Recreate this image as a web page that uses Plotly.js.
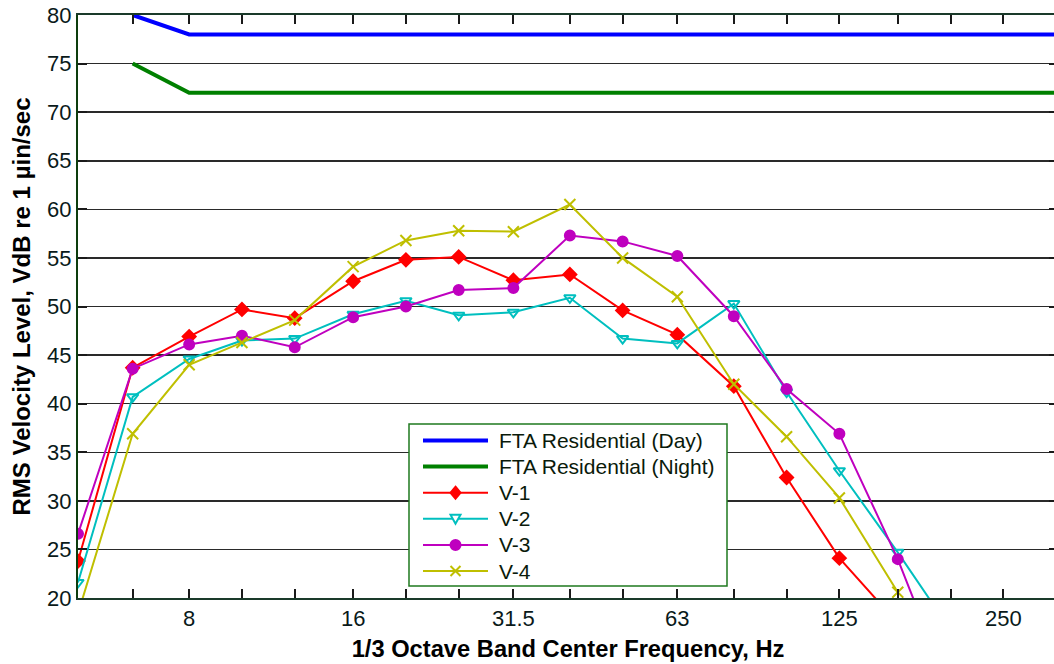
<!DOCTYPE html>
<html>
<head>
<meta charset="utf-8">
<script src="https://cdn.plot.ly/plotly-3.0.1.min.js"></script>
<style>
  html, body { margin: 0; padding: 0; background: #ffffff; overflow: hidden; }
  #chart { width: 1060px; height: 664px; }
</style>
</head>
<body>
<div id="chart"></div>
<script>
// 1/3 octave band centre frequencies (Hz)
const bands = [5, 6.3, 8, 10, 12.5, 16, 20, 25, 31.5, 40, 50, 63, 80, 100, 125, 160, 200, 250, 315];

// FTA residential criteria, defined from 6.3 Hz upward
const ftaBands = [6.3, 8, 10, 12.5, 16, 20, 25, 31.5, 40, 50, 63, 80, 100, 125, 160, 200, 250, 315];
const ftaDay   = [80, 78, 78, 78, 78, 78, 78, 78, 78, 78, 78, 78, 78, 78, 78, 78, 78, 78];
const ftaNight = [75, 72, 72, 72, 72, 72, 72, 72, 72, 72, 72, 72, 72, 72, 72, 72, 72, 72];

// Measured RMS velocity levels (VdB re 1 µin/sec), starting at 5 Hz
const v1 = [23.8, 43.7, 46.9, 49.7, 48.8, 52.6, 54.8, 55.1, 52.7, 53.3, 49.6, 47.1, 41.8, 32.4, 24.1, 17.4];
const v2 = [21.6, 40.7, 44.6, 46.5, 46.7, 49.2, 50.6, 49.1, 49.4, 50.9, 46.7, 46.2, 50.3, 41.2, 33.1, 24.7, 16.7];
const v3 = [26.6, 43.6, 46.1, 47.0, 45.8, 48.9, 50.0, 51.7, 51.9, 57.3, 56.7, 55.2, 49.0, 41.5, 36.9, 24.0, 10.2];
const v4 = [18.4, 36.9, 44.0, 46.3, 48.6, 54.1, 56.8, 57.8, 57.7, 60.5, 55.0, 51.0, 42.0, 36.6, 30.3, 20.6];

// Tick marks at every band, labels on every octave
const tickBands  = [6.3, 8, 10, 12.5, 16, 20, 25, 31.5, 40, 50, 63, 80, 100, 125, 160, 200, 250];
const tickLabels = ['', '8', '', '', '16', '', '', '31.5', '', '', '63', '', '', '125', '', '', '250'];

const font = 'Arial, "Liberation Sans", sans-serif';

// Plot area in pixels (the figure is a touch wider than the window,
// so the right-hand frame sits just past the visible edge)
const FIG_W = 1060, FIG_H = 664;
const M = { l: 78, r: 2, t: 15, b: 66 };
const plotW = FIG_W - M.l - M.r, plotH = FIG_H - M.t - M.b;
const px = p => (p - M.l) / plotW;             // pixel x -> paper x
const py = p => (FIG_H - M.b - p) / plotH;     // pixel y -> paper y

function series(name, y, color, symbol, size) {
  return {
    type: 'scatter', mode: 'lines+markers', name: name,
    x: bands.slice(0, y.length), y: y,
    line: { color: color, width: 2 },
    marker: { symbol: symbol, size: size, color: color, line: { color: color, width: 2 } }
  };
}

const traces = [
  { type: 'scatter', mode: 'lines', name: 'FTA Residential (Day)',
    x: ftaBands, y: ftaDay, line: { color: '#0000ff', width: 4 } },
  { type: 'scatter', mode: 'lines', name: 'FTA Residential (Night)',
    x: ftaBands, y: ftaNight, line: { color: '#008000', width: 4 } },
  series('V-1', v1, '#ff0000', 'diamond', 10),
  series('V-2', v2, '#00bfbf', 'triangle-down-open', 10),
  series('V-3', v3, '#bf00bf', 'circle', 10),
  series('V-4', v4, '#bfbf00', 'x-thin-open', 11)
];

// Boxed legend with long line samples, built from the trace styles
const legendBox = { left: 409, right: 727, top: 424, bottom: 586 };
const rowTop = 440.5, rowStep = 26.1;
const sample = { x0: 423, x1: 488, xm: 455.5 };
const textX = 497;

const glyphPaths = {
  'diamond': 'M0,6L5,0L0,-6L-5,0Z',
  'triangle-down-open': 'M-5,4L5,4L0,-5Z',
  'x-thin-open': 'M-5,-5L5,5M-5,5L5,-5'
};

const shapes = [{
  type: 'rect', xref: 'paper', yref: 'paper', layer: 'above',
  x0: px(legendBox.left), x1: px(legendBox.right),
  y0: py(legendBox.bottom), y1: py(legendBox.top),
  fillcolor: '#ffffff', line: { color: '#1f7a1f', width: 1.5 }
}];
const annotations = [];

traces.forEach((t, i) => {
  const yRow = py(rowTop + rowStep * i);
  shapes.push({
    type: 'line', xref: 'paper', yref: 'paper', layer: 'above',
    x0: px(sample.x0), x1: px(sample.x1), y0: yRow, y1: yRow,
    line: { color: t.line.color, width: t.line.width }
  });
  if (t.marker) {
    const sym = t.marker.symbol;
    const open = sym.endsWith('-open');
    const glyph = {
      xref: 'paper', yref: 'paper', layer: 'above',
      xsizemode: 'pixel', ysizemode: 'pixel',
      xanchor: px(sample.xm), yanchor: yRow,
      fillcolor: open ? (sym.startsWith('x') ? 'rgba(0,0,0,0)' : '#ffffff') : t.marker.color,
      line: { color: t.marker.color, width: 2 }
    };
    if (sym === 'circle') {
      Object.assign(glyph, { type: 'circle', x0: -5, x1: 5, y0: -5, y1: 5 });
    } else {
      Object.assign(glyph, { type: 'path', path: glyphPaths[sym] });
    }
    shapes.push(glyph);
  }
  annotations.push({
    xref: 'paper', yref: 'paper', x: px(textX), y: yRow,
    xanchor: 'left', yanchor: 'middle', showarrow: false,
    text: t.name, font: { family: font, size: 21, color: '#0a1a0a' }
  });
});

const layout = {
  width: FIG_W, height: FIG_H,
  margin: M,
  paper_bgcolor: '#ffffff', plot_bgcolor: '#ffffff',
  font: { family: font, color: '#000000', size: 21 },
  showlegend: false,
  shapes: shapes,
  annotations: annotations,
  xaxis: {
    type: 'log',
    range: [Math.log10(5), Math.log10(315)],
    tickmode: 'array', tickvals: tickBands, ticktext: tickLabels,
    ticks: 'inside', ticklen: 9, tickwidth: 2, tickcolor: '#1a1a1a',
    showgrid: false, zeroline: false,
    showline: true, linecolor: '#1a3a2a', linewidth: 2, mirror: 'ticks',
    tickfont: { family: font, size: 22, color: '#0a1a1a' },
    title: { text: '<b>1/3 Octave Band Center Frequency, Hz</b>', standoff: 10,
             font: { family: font, size: 23.7, color: '#000000' } }
  },
  yaxis: {
    range: [20, 80], dtick: 5, tick0: 20,
    ticks: 'inside', ticklen: 9, tickwidth: 2, tickcolor: '#1a1a1a',
    showgrid: true, gridcolor: '#2a2a2a', gridwidth: 1.5,
    zeroline: false,
    showline: true, linecolor: '#0d3d0d', linewidth: 2, mirror: 'ticks',
    tickfont: { family: font, size: 22, color: '#0a1a1a' },
    title: { text: '<b>RMS Velocity Level, VdB re 1 µin/sec</b>', standoff: 10,
             font: { family: font, size: 24, color: '#000000' } }
  }
};

Plotly.newPlot('chart', traces, layout, { displayModeBar: false, staticPlot: true });
</script>
</body>
</html>
